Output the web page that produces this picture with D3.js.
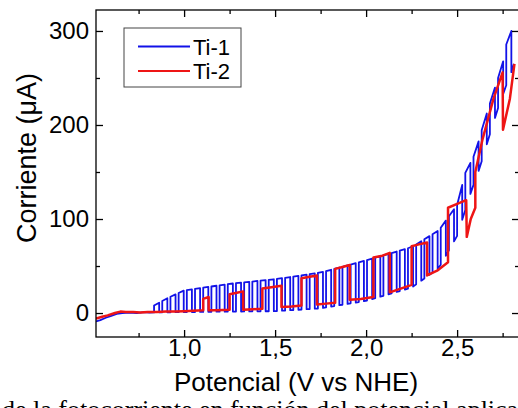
<!DOCTYPE html>
<html>
<head>
<meta charset="utf-8">
<script src="https://cdn.jsdelivr.net/npm/d3@7"></script>
<style>
  body { margin: 0; background: #fff; }
  svg { display: block; font-family: "Liberation Sans", Arial, sans-serif; }
</style>
</head>
<body>
<svg id="chart" width="518" height="408"></svg>
<script>
// ------------------- Data -------------------
// Ti-1: lead-in before chopping, then chop edges (on, off, on, off ...)
const ti1Lead = [[0.516, -9], [0.54, -7.5], [0.57, -5], [0.60, -3], [0.63, -1], [0.66, 0],
                 [0.70, 0.5], [0.74, 0], [0.78, 1], [0.81, 0.5], [0.835, 0.6]];

const ti1Edges = [
  0.835, 0.863, 0.880, 0.908, 0.925, 0.953, 0.970, 0.998, 1.015, 1.043,
  1.060, 1.088, 1.105, 1.133, 1.150, 1.178, 1.195, 1.223, 1.240, 1.268,
  1.285, 1.313, 1.330, 1.358, 1.375, 1.403, 1.420, 1.448, 1.465, 1.493,
  1.510, 1.538, 1.555, 1.583, 1.600, 1.628, 1.645, 1.673, 1.690, 1.718,
  1.735, 1.763, 1.780, 1.808, 1.825, 1.853, 1.870, 1.898, 1.915, 1.943,
  1.960, 1.988, 2.005, 2.033, 2.050, 2.078, 2.095, 2.123, 2.140, 2.168,
  2.185, 2.213, 2.230, 2.258, 2.275, 2.303, 2.320, 2.348, 2.365, 2.393,
  2.410, 2.438, 2.455, 2.483, 2.500, 2.528, 2.545, 2.573, 2.590, 2.618,
  2.635, 2.663, 2.680, 2.708, 2.725, 2.753, 2.770, 2.798
];

const ti1Dark = [
  0.6, 0.7, 0.7, 0.8, 0.8, 0.9, 0.9, 1, 1, 1.1,
  1.1, 1.2, 1.2, 1.3, 1.3, 1.4, 1.4, 1.4, 1.5, 1.5,
  1.6, 1.6, 1.7, 1.7, 1.8, 1.8, 1.8, 1.9, 1.9, 2,
  2.1, 2.5, 2.7, 3, 3.2, 3.5, 3.7, 4.1, 4.3, 4.6,
  4.8, 5.4, 6, 6.9, 7.4, 8.3, 8.8, 9.7, 10.3, 11.2,
  11.7, 12.6, 13.3, 14.8, 15.8, 17.4, 18.3, 19.9, 20.8, 22.4,
  23.4, 24.9, 25.9, 28.1, 30.5, 34.4, 36.8, 40.7, 43.1, 47,
  51.4, 60.9, 66.7, 76.2, 82, 99.1, 109.5, 126.7, 136.3, 151.2,
  161.4, 179.4, 190.2, 207.5, 218, 233.1, 242.3, 256.2
];

const ti1Light = [
  8, 11, 12.8, 15.7, 17.3, 19.8, 21.3, 23.8, 24.4, 25.2,
  25.7, 26.5, 26.9, 27.7, 28.2, 29, 29.5, 30.2, 30.7, 31.4,
  31.7, 32.3, 32.6, 33.2, 33.5, 34.1, 34.4, 35, 35.3, 35.9,
  36.3, 37.1, 37.5, 38.3, 38.8, 39.6, 40.1, 40.8, 41.3, 42.1,
  42.6, 43.7, 44.6, 46, 46.9, 48.4, 49.2, 50.7, 51.6, 53,
  53.9, 55.4, 56.3, 57.8, 58.8, 60.4, 61.3, 62.9, 63.8, 65.4,
  66.4, 67.9, 68.9, 71, 73, 76.4, 78.4, 81.8, 83.8, 87.2,
  90.7, 98.3, 102.9, 110.4, 115, 136.2, 149, 159.7, 166.2, 182.6,
  194.5, 212.2, 222.7, 239.8, 250, 267.7, 285.6, 300
];

const ti1Tail = [[2.812, 265]];

// Ti-2 (slower chopping), traced vertex by vertex
const ti2V = [0.516, 0.55, 0.58, 0.62, 0.65, 0.68, 0.72, 0.76, 0.80, 0.85, 0.90, 0.95, 1.00, 1.05, 1.105,
  1.105, 1.135, 1.135, 1.18, 1.25, 1.25, 1.29, 1.325, 1.325, 1.38, 1.43, 1.43, 1.48, 1.535, 1.535,
  1.59, 1.645, 1.645, 1.69, 1.73, 1.73, 1.78, 1.83, 1.83, 1.87, 1.91, 1.91, 1.97, 2.04, 2.04,
  2.09, 2.13, 2.13, 2.19, 2.25, 2.25, 2.29, 2.335, 2.335, 2.39, 2.45, 2.45, 2.50, 2.55, 2.553,
  2.575, 2.60, 2.60, 2.64, 2.70, 2.75, 2.752, 2.79, 2.815];
const ti2I = [-6, -4, -2.5, 0, 1.5, 1, 1, 0.5, 1, 1, 1.5, 1.5, 2, 2.5, 3,
  15, 17, 3, 3, 3.5, 20, 21.5, 23, 3.5, 4, 4.5, 26, 27.5, 29, 6.5,
  7, 8, 37, 38.5, 40, 9, 10, 11, 47, 49, 51, 14, 15, 17, 59,
  61, 64, 22, 26, 30, 71, 73, 75, 40, 45, 54, 112, 116, 120, 81,
  100, 112, 150, 185, 228, 256, 195, 228, 265];

const xMajor = [1.0, 1.5, 2.0, 2.5];
const xMinor = [0.75, 1.25, 1.75, 2.25, 2.75];
const yMajor = [0, 100, 200, 300];
const yMinor = [50, 150, 250];

// ------------------- Setup -------------------
const svg = d3.select("#chart");
const plotL = 96, plotR = 519, plotT = 10, plotB = 337;

const x = d3.scaleLinear().domain([0.516, 2.84]).range([plotL, plotR]);
const y = d3.scaleLinear().domain([-25.5, 322.3]).range([plotB, plotT]);

svg.append("rect").attr("width", 518).attr("height", 408).attr("fill", "#fff");

svg.append("clipPath").attr("id", "plot-clip")
  .append("rect").attr("x", plotL).attr("y", plotT)
  .attr("width", plotR - plotL).attr("height", plotB - plotT);

// build the chopped Ti-1 path
const ti1Points = ti1Lead.slice();
ti1Edges.forEach((v, i) => {
  if (i % 2 === 0) {
    ti1Points.push([v, ti1Dark[i]], [v, ti1Light[i]]);
  } else {
    ti1Points.push([v, ti1Light[i]], [v, ti1Dark[i]]);
  }
});
ti1Tail.forEach(p => ti1Points.push(p));

const ti2Points = ti2V.map((v, i) => [v, ti2I[i]]);

const line = d3.line().x(d => x(d[0])).y(d => y(d[1]));

const plot = svg.append("g").attr("clip-path", "url(#plot-clip)");
plot.append("path")
  .attr("d", line(ti1Points))
  .attr("fill", "none")
  .attr("stroke", "#1212e8")
  .attr("stroke-width", 1.8)
  .attr("stroke-linejoin", "round");
plot.append("path")
  .attr("d", line(ti2Points))
  .attr("fill", "none")
  .attr("stroke", "#ee1515")
  .attr("stroke-width", 2.5)
  .attr("stroke-linejoin", "round");

// ------------------- Axes -------------------
const comma = d => d.toFixed(1).replace(".", ",");

function styleAxis(g) {
  g.select(".domain").remove();
  g.selectAll("line").attr("stroke", "#000").attr("stroke-width", 1.3);
  g.selectAll("text").attr("fill", "#000").attr("font-size", "24px");
}

svg.append("g").attr("transform", `translate(0,${plotB})`)
  .call(d3.axisBottom(x).tickValues(xMajor).tickSize(-7).tickPadding(2).tickFormat(comma))
  .call(styleAxis);
svg.append("g").attr("transform", `translate(0,${plotB})`)
  .call(d3.axisBottom(x).tickValues(xMinor).tickSize(-4).tickFormat(""))
  .call(styleAxis);
svg.append("g").attr("transform", `translate(0,${plotT})`)
  .call(d3.axisTop(x).tickValues(xMajor).tickSize(-7).tickFormat(""))
  .call(styleAxis);
svg.append("g").attr("transform", `translate(0,${plotT})`)
  .call(d3.axisTop(x).tickValues(xMinor).tickSize(-4).tickFormat(""))
  .call(styleAxis);

svg.append("g").attr("transform", `translate(${plotL},0)`)
  .call(d3.axisLeft(y).tickValues(yMajor).tickSize(-7).tickPadding(7))
  .call(styleAxis);
svg.append("g").attr("transform", `translate(${plotL},0)`)
  .call(d3.axisLeft(y).tickValues(yMinor).tickSize(-4).tickFormat(""))
  .call(styleAxis);
svg.append("g").attr("transform", `translate(${plotR},0)`)
  .call(d3.axisRight(y).tickValues(yMajor).tickSize(-7).tickFormat(""))
  .call(styleAxis);
svg.append("g").attr("transform", `translate(${plotR},0)`)
  .call(d3.axisRight(y).tickValues(yMinor).tickSize(-4).tickFormat(""))
  .call(styleAxis);

// frame
svg.append("rect")
  .attr("x", plotL).attr("y", plotT)
  .attr("width", plotR - plotL).attr("height", plotB - plotT)
  .attr("fill", "none").attr("stroke", "#000").attr("stroke-width", 1.3);

// ------------------- Titles -------------------
svg.append("text")
  .attr("x", 296).attr("y", 391)
  .attr("text-anchor", "middle")
  .attr("font-size", "26px")
  .text("Potencial (V vs NHE)");

svg.append("text")
  .attr("transform", "translate(36,158) rotate(-90)")
  .attr("text-anchor", "middle")
  .attr("font-size", "27px")
  .text("Corriente (\u03BCA)");

// caption line of the page below the figure, cut by the picture edge
svg.append("text")
  .attr("x", 2).attr("y", 418)
  .attr("font-family", "'Liberation Serif', 'Times New Roman', serif")
  .attr("font-size", "26px")
  .text("de la fotocorriente en función del potencial aplicado de los electrodos");

// ------------------- Legend -------------------
const legendData = [
  { name: "Ti-1", color: "#1212e8" },
  { name: "Ti-2", color: "#ee1515" }
];
const legend = svg.append("g");
legend.append("rect")
  .attr("x", 124).attr("y", 28).attr("width", 117).attr("height", 59)
  .attr("fill", "#fff").attr("stroke", "#444").attr("stroke-width", 1);
legend.selectAll("line.key")
  .data(legendData)
  .enter()
  .append("line")
    .attr("class", "key")
    .attr("x1", 138).attr("x2", 190)
    .attr("y1", (d, i) => 46.5 + i * 24.5)
    .attr("y2", (d, i) => 46.5 + i * 24.5)
    .attr("stroke", d => d.color)
    .attr("stroke-width", 2.2);
legend.selectAll("text")
  .data(legendData)
  .enter()
  .append("text")
    .attr("x", 193)
    .attr("y", (d, i) => 54.5 + i * 24.5)
    .attr("font-size", "22px")
    .text(d => d.name);
</script>
</body>
</html>
